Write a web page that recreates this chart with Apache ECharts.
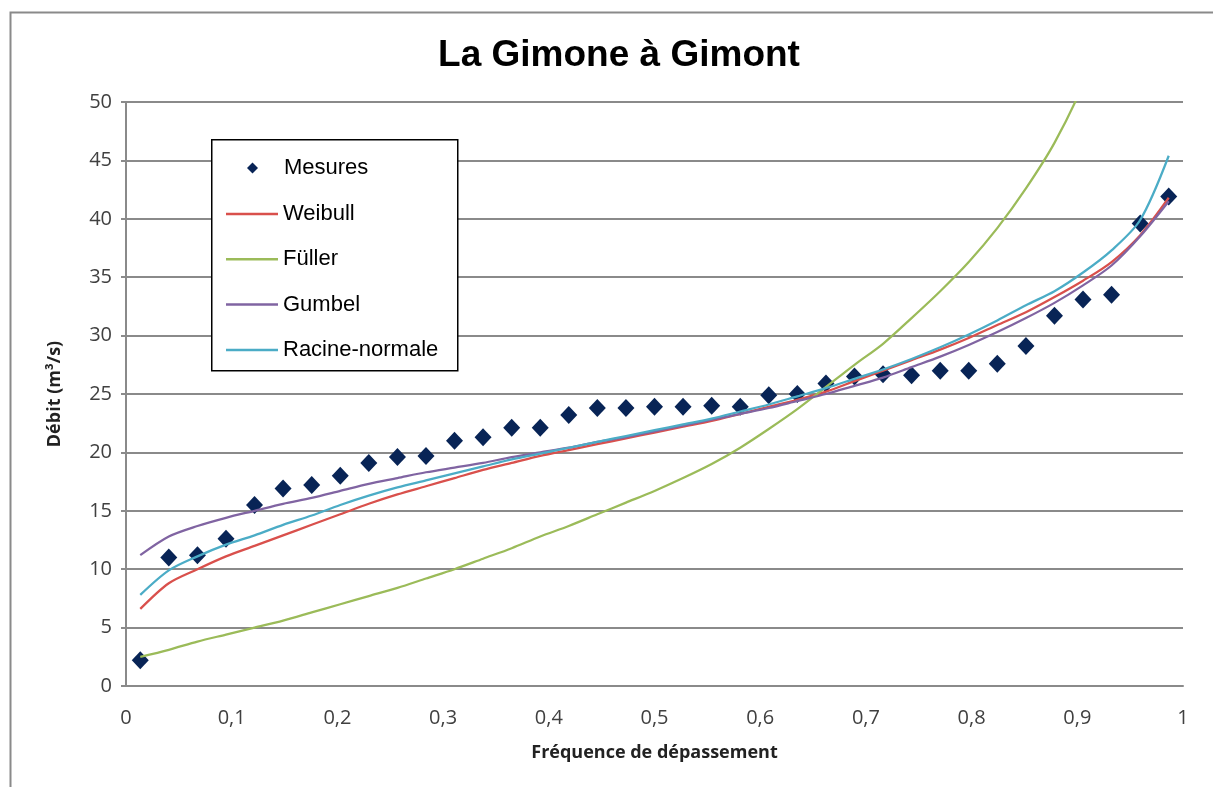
<!DOCTYPE html>
<html>
<head>
<meta charset="utf-8">
<title>La Gimone à Gimont</title>
<script src="https://cdn.jsdelivr.net/npm/echarts@6/dist/echarts.min.js"></script>
<style>
  html, body { margin: 0; padding: 0; background: #fff; }
  #chart { width: 1213px; height: 787px; }
</style>
</head>
<body>
<div id="chart"></div>
<script>
// fréquences de dépassement (abscisses communes)
var freq = [0.0135, 0.0405, 0.0676, 0.0946, 0.1216, 0.1486, 0.1757, 0.2027, 0.2297, 0.2568,
            0.2838, 0.3108, 0.3378, 0.3649, 0.3919, 0.4189, 0.4459, 0.4730, 0.5000, 0.5270,
            0.5541, 0.5811, 0.6081, 0.6351, 0.6622, 0.6892, 0.7162, 0.7432, 0.7703, 0.7973,
            0.8243, 0.8514, 0.8784, 0.9054, 0.9324, 0.9595, 0.9865];

// débits mesurés (m3/s)
var mesures = [2.2, 11.0, 11.2, 12.6, 15.5, 16.9, 17.2, 18.0, 19.1, 19.6,
               19.7, 21.0, 21.3, 22.1, 22.1, 23.2, 23.8, 23.8, 23.9, 23.9,
               24.0, 23.9, 24.9, 25.0, 25.9, 26.5, 26.7, 26.6, 27.0, 27.0,
               27.6, 29.1, 31.7, 33.1, 33.5, 39.6, 41.9];

// ajustements
var weibull = [6.6, 8.8, 10.0, 11.1, 12.0, 12.9, 13.8, 14.7, 15.6, 16.4,
               17.1, 17.8, 18.5, 19.1, 19.7, 20.2, 20.7, 21.2, 21.7, 22.2,
               22.7, 23.3, 23.9, 24.5, 25.2, 26.1, 27.0, 27.9, 28.8, 29.8,
               30.9, 32.0, 33.3, 34.7, 36.3, 38.6, 41.8];
var fuller  = [2.5, 3.1, 3.8, 4.4, 5.0, 5.6, 6.3, 7.0, 7.7, 8.4,
               9.2, 10.0, 10.9, 11.8, 12.8, 13.7, 14.7, 15.7, 16.7, 17.8,
               19.0, 20.4, 22.0, 23.7, 25.6, 27.5, 29.3, 31.5, 33.8, 36.3,
               39.2, 42.6, 46.5, 51.5, 58.0, 66.0, 78.0];
var gumbel  = [11.2, 12.8, 13.7, 14.4, 15.0, 15.6, 16.1, 16.7, 17.3, 17.8,
               18.3, 18.7, 19.1, 19.6, 20.0, 20.4, 20.9, 21.3, 21.8, 22.3,
               22.8, 23.3, 23.8, 24.4, 25.0, 25.7, 26.4, 27.3, 28.2, 29.2,
               30.3, 31.5, 32.8, 34.3, 36.0, 38.5, 41.5];
var racine  = [7.8, 9.9, 11.1, 12.1, 12.9, 13.8, 14.6, 15.5, 16.3, 17.0,
               17.6, 18.2, 18.8, 19.4, 19.9, 20.4, 20.9, 21.4, 21.9, 22.4,
               22.9, 23.5, 24.1, 24.8, 25.5, 26.3, 27.1, 28.0, 29.0, 30.1,
               31.3, 32.6, 33.8, 35.4, 37.3, 39.9, 45.4];

var xTickLabels = ['0', '0,1', '0,2', '0,3', '0,4', '0,5', '0,6', '0,7', '0,8', '0,9', '1'];

function pairs(ys) {
    return freq.map(function (x, i) { return [x, ys[i]]; });
}

function courbe(name, color, ys) {
    return {
        name: name,
        type: 'line',
        data: pairs(ys),
        symbol: 'none',
        smooth: 0.3,
        lineStyle: { color: color, width: 2.25 },
        itemStyle: { color: color }
    };
}

var chart = echarts.init(document.getElementById('chart'));
var option = {
    backgroundColor: '#fff',
    animation: false,
    title: {
        text: 'La Gimone à Gimont',
        left: 614,
        top: 32,
        textAlign: 'center',
        textStyle: { fontFamily: 'Liberation Sans', fontWeight: 'bold', fontSize: 37, color: '#000' }
    },
    graphic: [
        {
            type: 'rect', left: 8, top: 10, silent: true,
            shape: { width: 1204, height: 790 },
            style: { fill: 'none', stroke: '#8a8a8a', lineWidth: 2 }
        },
        {
            type: 'rect', left: 211, top: 139, z: 5, silent: true,
            shape: { width: 246, height: 231 },
            style: { fill: '#fff', stroke: '#000', lineWidth: 1.5 }
        }
    ],
    legend: [
        {
            data: ['Mesures'],
            orient: 'vertical',
            left: 242,
            top: 151,
            z: 10,
            itemWidth: 11,
            itemHeight: 11,
            icon: 'diamond',
            textStyle: { fontFamily: 'Liberation Sans', fontSize: 22, color: '#000', lineHeight: 24, padding: [0, 0, 0, 21] }
        },
        {
            data: ['Weibull', 'Füller', 'Gumbel', 'Racine-normale'],
            orient: 'vertical',
            left: 221,
            top: 197,
            z: 10,
            icon: 'rect',
            itemWidth: 52,
            itemHeight: 2.5,
            itemGap: 21.3,
            textStyle: { fontFamily: 'Liberation Sans', fontSize: 22, color: '#000', lineHeight: 24 }
        }
    ],
    grid: { left: 126, right: 30, top: 102, bottom: 101, containLabel: false },
    xAxis: {
        type: 'value',
        min: 0,
        max: 1,
        interval: 0.1,
        name: 'Fréquence de dépassement',
        nameLocation: 'middle',
        nameGap: 58,
        nameTextStyle: { fontFamily: 'Open Sans', fontWeight: 'bold', fontSize: 18, color: '#222' },
        axisLine: { lineStyle: { color: '#8a8a8a', width: 2 } },
        axisTick: { show: false },
        splitLine: { show: false },
        axisLabel: {
            margin: 22,
            fontFamily: 'Open Sans',
            fontSize: 20,
            color: '#404040',
            formatter: function (v) { return xTickLabels[Math.round(v * 10)]; }
        }
    },
    yAxis: {
        type: 'value',
        min: 0,
        max: 50,
        interval: 5,
        name: 'Débit (m³/s)',
        nameLocation: 'middle',
        nameGap: 62,
        nameTextStyle: { fontFamily: 'Open Sans', fontWeight: 'bold', fontSize: 18, color: '#222' },
        axisLine: { show: true, lineStyle: { color: '#8a8a8a', width: 2 } },
        axisTick: { show: true, length: 5, lineStyle: { color: '#8a8a8a', width: 2 } },
        splitLine: { lineStyle: { color: '#8a8a8a', width: 2 } },
        axisLabel: { margin: 14, fontFamily: 'Open Sans', fontSize: 20, color: '#404040' }
    },
    series: [
        {
            name: 'Mesures',
            type: 'scatter',
            data: pairs(mesures),
            symbol: 'diamond',
            symbolSize: [17, 18],
            itemStyle: { color: '#082456', opacity: 1 }
        },
        courbe('Weibull', '#d9504c', weibull),
        courbe('Füller', '#9bbb59', fuller),
        courbe('Gumbel', '#8064a2', gumbel),
        courbe('Racine-normale', '#4bacc6', racine)
    ]
};
chart.setOption(option);
</script>
</body>
</html>
